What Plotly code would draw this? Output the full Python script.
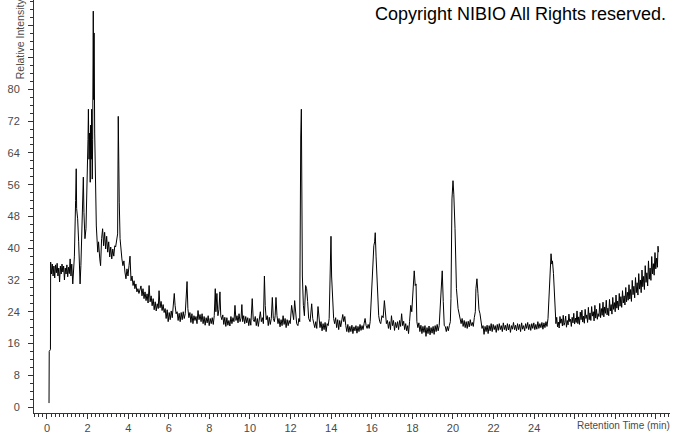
import plotly.graph_objects as go

# Chromatogram: (retention time [min], relative intensity)
start_trace = [
    (0.10, 1), (0.11, 14), (0.17, 14.5), (0.18, 36.5), (0.22, 33.5), (0.26, 36), (0.30, 33),
    (0.34, 35.5), (0.38, 32.5), (0.42, 35.8), (0.46, 33.8), (0.50, 36.2), (0.54, 33), (0.58, 35),
    (0.62, 31.5), (0.66, 35.5), (0.70, 33.5), (0.74, 36), (0.78, 34), (0.82, 35.5), (0.86, 32),
    (0.90, 35), (0.94, 33.5), (0.98, 35.8), (1.02, 32.8), (1.06, 35.2), (1.10, 33.6), (1.14, 37.3),
    (1.18, 33), (1.22, 36),
]

early_peaks = [
    (1.27, 31), (1.35, 38), (1.41, 52), (1.44, 60), (1.46, 50), (1.51, 47.4), (1.56, 41.6),
    (1.59, 34), (1.63, 31), (1.67, 35.6), (1.74, 47.4), (1.79, 57.9), (1.82, 49), (1.87, 42.4),
    (1.92, 44.9), (1.95, 50.6), (1.99, 55.6), (2.02, 67.4), (2.04, 75), (2.07, 62.4), (2.10, 69),
    (2.13, 56.6), (2.15, 71), (2.18, 62.4), (2.20, 75), (2.23, 57.4), (2.25, 67.4), (2.28, 99.7),
    (2.30, 77.4), (2.32, 94.2), (2.35, 69), (2.38, 55.6), (2.43, 45.6), (2.50, 39), (2.54, 41.6),
    (2.60, 37.3), (2.64, 35.6), (2.69, 42.4), (2.74, 44.9), (2.79, 40.6), (2.84, 44), (2.89, 39.8),
    (2.94, 43), (2.99, 39), (3.04, 41.6), (3.09, 37.8), (3.14, 40.3), (3.19, 37.3), (3.24, 39.8),
    (3.29, 38), (3.34, 40.6), (3.38, 40.3), (3.43, 42.4), (3.48, 43.6), (3.51, 73.2), (3.54, 55.6),
    (3.56, 51.6), (3.60, 42.4), (3.65, 39), (3.69, 37.3), (3.74, 35.6), (3.79, 36.8), (3.84, 34),
    (3.89, 32.3), (3.94, 34.8), (3.99, 33), (4.04, 35.6), (4.09, 38), (4.14, 31.8), (4.19, 33),
    (4.24, 30.6), (4.29, 31.8), (4.33, 29.8), (4.38, 31), (4.43, 29), (4.48, 29.8), (4.53, 28.6),
    (4.58, 29.3),
]

decline_trace = [
    (4.63, 30.5), (4.68, 28), (4.73, 29.8), (4.78, 27.3), (4.83, 29), (4.88, 26.8), (4.93, 28.5),
    (4.98, 26.2), (5.03, 30.6), (5.08, 26.5), (5.13, 28), (5.18, 25.5), (5.23, 27.3), (5.28, 24.5),
    (5.33, 26.5), (5.38, 24.2), (5.43, 26), (5.48, 24.8), (5.52, 29.3), (5.57, 25), (5.62, 26.6),
    (5.67, 24.3), (5.72, 25.8), (5.77, 23.8), (5.82, 24.8), (5.87, 22.3), (5.92, 24.5), (5.97, 21.5),
    (6.02, 23.8), (6.07, 22), (6.12, 24.2), (6.17, 22.5), (6.22, 27.3), (6.27, 28.6), (6.31, 25.6),
    (6.36, 23.5), (6.41, 24), (6.46, 21.8), (6.51, 23.6), (6.56, 21.5), (6.61, 23.8), (6.66, 22),
    (6.71, 24), (6.76, 22.3), (6.81, 23.5), (6.86, 27.3), (6.90, 31.6), (6.94, 24.8), (6.99, 22.5),
    (7.04, 23.8), (7.09, 21.3), (7.14, 23.5), (7.19, 21), (7.24, 23), (7.29, 21.8), (7.34, 22.8),
    (7.39, 21), (7.44, 24.3), (7.49, 22), (7.54, 23.3), (7.59, 21.5), (7.64, 23.5), (7.69, 21),
    (7.74, 22.8), (7.79, 20.6), (7.84, 22.5), (7.89, 21.2), (7.94, 23), (7.99, 20.5), (8.04, 22.3),
    (8.09, 21), (8.14, 22.5), (8.19, 20.8), (8.24, 23), (8.29, 29.8), (8.32, 24), (8.37, 28.6),
    (8.42, 23), (8.47, 24.5), (8.52, 29), (8.56, 23), (8.61, 22), (8.66, 23.2), (8.71, 20.8),
    (8.76, 22.6), (8.81, 20.3), (8.86, 22.5), (8.91, 20.6), (8.96, 21.8), (9.01, 20.4), (9.06, 22.8),
    (9.11, 21), (9.16, 22.5), (9.21, 21.5), (9.26, 25.6), (9.31, 21.8), (9.36, 23), (9.41, 21.2),
    (9.46, 23.5), (9.51, 21.5), (9.56, 22.4), (9.60, 25.8), (9.64, 21.5), (9.69, 23), (9.74, 21),
    (9.79, 22.8), (9.84, 21.2), (9.89, 22.5), (9.94, 20.5), (9.99, 22.3),
]

middle_trace = [
    (10.04, 20.6), (10.11, 27.3), (10.16, 22), (10.21, 21.5), (10.26, 22.8), (10.31, 20.5),
    (10.36, 22.3), (10.41, 20.3), (10.46, 22), (10.51, 24), (10.56, 21.5), (10.61, 22.5),
    (10.66, 21), (10.71, 33), (10.75, 25.6), (10.80, 22), (10.85, 23), (10.90, 20.5), (10.95, 22.6),
    (11.00, 20.8), (11.05, 22.3), (11.10, 27.6), (11.15, 22.3), (11.20, 21.5), (11.24, 23),
    (11.28, 27.6), (11.33, 23), (11.38, 21), (11.43, 22.3), (11.48, 20.2), (11.53, 22), (11.58, 20.5),
    (11.63, 23), (11.68, 20.8), (11.73, 22.3), (11.78, 20), (11.83, 22), (11.88, 20.5), (11.93, 21.8),
    (11.98, 21), (12.05, 25.6), (12.10, 23), (12.15, 22), (12.20, 26.8), (12.25, 22.3), (12.30, 21),
    (12.36, 20.5), (12.41, 22.3), (12.45, 21.5), (12.47, 67.4), (12.50, 68), (12.53, 75),
    (12.55, 43), (12.58, 33), (12.63, 25.6), (12.68, 23), (12.74, 30.6), (12.79, 29.8), (12.84, 26.6),
    (12.89, 22.3), (12.96, 21.5), (13.04, 26), (13.09, 22.3), (13.14, 21), (13.19, 20), (13.24, 21.5),
    (13.29, 19.8), (13.35, 25.3), (13.40, 21.5), (13.45, 20), (13.50, 21.5), (13.55, 19.2),
    (13.60, 21), (13.65, 19.5), (13.70, 21.3), (13.75, 19), (13.80, 21), (13.85, 20.5), (13.90, 22.3),
    (13.96, 40.6), (13.99, 43), (14.02, 33), (14.07, 26.6), (14.12, 22.3), (14.17, 21), (14.22, 22.5),
    (14.27, 20), (14.32, 22), (14.37, 19.5), (14.42, 21.8), (14.47, 20.2), (14.52, 22.5),
    (14.57, 23.3), (14.62, 21.5), (14.67, 22.8), (14.72, 20.5), (14.77, 19), (14.82, 20.8),
    (14.87, 18.8), (14.92, 20.3), (14.97, 19), (15.02, 20.6), (15.07, 18.5), (15.12, 20.2),
    (15.17, 19.2), (15.22, 20.5), (15.27, 18.6), (15.32, 20.3), (15.37, 19), (15.42, 20.8),
    (15.47, 19.3), (15.52, 20.5), (15.57, 19.5), (15.62, 21), (15.67, 22.3), (15.72, 20.5),
    (15.77, 19.8), (15.82, 20.8), (15.87, 19.8), (15.92, 21.5), (15.99, 30.6), (16.05, 35.6),
    (16.10, 40.6), (16.14, 41.6), (16.17, 43.9), (16.21, 38), (16.24, 34.8), (16.29, 28), (16.34, 23),
    (16.39, 21.5), (16.44, 21), (16.50, 23), (16.56, 22.5), (16.62, 26.8), (16.67, 23), (16.72, 21),
    (16.77, 21.8), (16.82, 19.8), (16.87, 21.5), (16.92, 19.5), (16.97, 23), (17.02, 20.5),
    (17.07, 21.8), (17.12, 19.3), (17.17, 21.3), (17.22, 20), (17.27, 21.5), (17.32, 19.5),
    (17.37, 21.8), (17.42, 20.3), (17.47, 23.5), (17.52, 20.5), (17.57, 21.6), (17.62, 19.5),
    (17.67, 21), (17.72, 19.2), (17.77, 20.5), (17.81, 18.5), (17.86, 21.5), (17.92, 25.6),
    (17.97, 24), (18.03, 30.6), (18.09, 34.3), (18.14, 30.6), (18.18, 31), (18.22, 21.5), (18.27, 20),
    (18.32, 21.2), (18.37, 19), (18.42, 20.6), (18.47, 18.5), (18.52, 20.3), (18.57, 18.8),
    (18.62, 20.5), (18.67, 17.8), (18.72, 20), (18.77, 18.5), (18.82, 20.4), (18.87, 18.2),
    (18.92, 20), (18.97, 18.6), (19.02, 20.3), (19.07, 18.3), (19.12, 20.5), (19.17, 19),
    (19.22, 20.8), (19.27, 19.2), (19.32, 20.5), (19.36, 24.8), (19.42, 32.3), (19.47, 34.3),
    (19.52, 26.6), (19.57, 20.5), (19.62, 20.3), (19.67, 19), (19.72, 20.3), (19.77, 19.2),
    (19.82, 20.5), (19.87, 21.5), (19.90, 27.3), (19.95, 52.4), (20.00, 57), (20.04, 53.6),
    (20.10, 44.9), (20.17, 29.8), (20.25, 24.8), (20.34, 22.3),
]

late_trace = [
    (20.40, 21), (20.45, 22.3), (20.50, 20.3), (20.55, 21.8), (20.60, 20), (20.65, 21.5),
    (20.70, 19.8), (20.75, 21.6), (20.80, 20.2), (20.85, 22), (20.90, 20.5), (20.95, 21.3),
    (21.00, 20.3), (21.05, 22.5), (21.10, 24), (21.13, 29.8), (21.18, 32.3), (21.23, 28.6),
    (21.28, 24.5), (21.33, 23.5), (21.38, 21.5), (21.43, 19.8), (21.48, 20.5), (21.53, 18.3),
    (21.58, 20.3), (21.63, 19), (21.68, 20.6), (21.73, 18.5), (21.78, 20.5), (21.83, 19.2),
    (21.88, 21), (21.93, 19), (21.98, 20.8), (22.03, 19.5), (22.08, 20.5), (22.13, 18.8),
    (22.18, 20.8), (22.23, 19.3), (22.28, 21), (22.33, 19.5), (22.38, 20.5), (22.43, 19),
    (22.48, 21.2), (22.53, 19.5), (22.58, 20.6), (22.63, 19.2), (22.68, 21), (22.73, 19.4),
    (22.78, 20.8), (22.83, 18.8), (22.88, 20.5), (22.93, 19.6), (22.98, 21.3), (23.03, 19.5),
    (23.08, 20.6), (23.13, 19.2), (23.18, 21), (23.23, 19.5), (23.28, 20.8), (23.33, 19),
    (23.38, 21.2), (23.43, 19.6), (23.48, 20.5), (23.53, 19.2), (23.58, 21), (23.63, 19.8),
    (23.68, 21.3), (23.73, 19.5), (23.78, 20.8), (23.83, 19.3), (23.88, 21), (23.93, 19.8),
    (23.98, 21.2), (24.03, 19.5), (24.08, 20.8), (24.13, 19.6), (24.18, 21.5), (24.23, 19.8),
    (24.28, 21), (24.33, 20), (24.38, 21.3), (24.43, 19.6), (24.48, 21.2), (24.53, 20),
    (24.58, 21.5), (24.63, 20.3), (24.68, 22.3), (24.73, 28), (24.78, 34.8), (24.83, 38.6),
    (24.87, 36), (24.90, 36.8), (24.95, 33.6), (25.02, 23.5),
]

rising_end = [
    (25.07, 21), (25.11, 22.6), (25.15, 20.2), (25.19, 21.4), (25.23, 19.9), (25.27, 22.8),
    (25.31, 21.1), (25.35, 22.2), (25.39, 20.4), (25.43, 23.1), (25.47, 20.6), (25.51, 21.3),
    (25.55, 22.9), (25.59, 20.1), (25.63, 21.8), (25.67, 20.7), (25.71, 23.4), (25.75, 21.5),
    (25.79, 22.1), (25.83, 20.3), (25.87, 22.6), (25.91, 21.2), (25.95, 23.6), (25.99, 20.9),
    (26.03, 22.4), (26.07, 21.3), (26.11, 24.2), (26.15, 21.0), (26.19, 22.7), (26.23, 20.8),
    (26.27, 23.9), (26.31, 22.0), (26.35, 24.4), (26.39, 21.4), (26.43, 22.9), (26.47, 21.1),
    (26.51, 24.6), (26.55, 22.3), (26.59, 23.2), (26.63, 21.3), (26.67, 25.1), (26.71, 22.0),
    (26.75, 23.7), (26.79, 21.8), (26.83, 25.3), (26.87, 22.9), (26.91, 24.0), (26.95, 21.7),
    (26.99, 25.6), (27.03, 22.4), (27.07, 24.6), (27.11, 22.1), (27.15, 23.5), (27.19, 22.8),
    (27.23, 26.1), (27.27, 22.5), (27.31, 24.8), (27.35, 23.1), (27.39, 26.4), (27.43, 22.7),
    (27.47, 25.2), (27.51, 23.6), (27.55, 26.9), (27.59, 23.2), (27.63, 24.9), (27.67, 23.0),
    (27.71, 27.1), (27.75, 24.2), (27.79, 25.8), (27.83, 23.4), (27.87, 27.6), (27.91, 24.6),
    (27.95, 26.3), (27.99, 24.0), (28.03, 28.2), (28.07, 24.9), (28.11, 26.7), (28.15, 24.5),
    (28.19, 28.6), (28.23, 25.4), (28.27, 27.8), (28.31, 25.1), (28.35, 29.3), (28.39, 26.2),
    (28.43, 28.0), (28.47, 25.7), (28.51, 30.1), (28.55, 26.5), (28.59, 28.9), (28.63, 26.9),
    (28.67, 30.8), (28.71, 27.2), (28.75, 29.6), (28.79, 26.6), (28.83, 31.9), (28.87, 28.3),
    (28.91, 30.4), (28.95, 27.5), (28.99, 32.6), (29.03, 28.8), (29.07, 31.3), (29.11, 28.2),
    (29.15, 33.6), (29.19, 29.7), (29.23, 32.0), (29.27, 28.8), (29.31, 34.5), (29.35, 30.3),
    (29.39, 32.9), (29.43, 29.6), (29.47, 35.6), (29.51, 31.4), (29.55, 33.8), (29.59, 30.5),
    (29.63, 36.8), (29.67, 32.2), (29.71, 35.0), (29.75, 31.9), (29.79, 37.9), (29.83, 33.5),
    (29.87, 36.1), (29.91, 33.2), (29.95, 38.9), (29.99, 34.8), (30.03, 37.5), (30.07, 35.2),
    (30.10, 40.5), (30.12, 39),
]

x_tick_values = [0, 2, 4, 6, 8, 10, 12, 14, 16, 18, 20, 22, 24, 26, 28, 30]
x_tick_labels = ["0", "2", "4", "6", "8", "10", "12", "14", "16", "18", "20", "22", "24", "", "", ""]
y_tick_values = [0, 8, 16, 24, 32, 40, 48, 56, 64, 72, 80, 88, 96]
y_tick_labels = ["0", "8", "16", "24", "32", "40", "48", "56", "64", "72", "80", "", ""]

rt_min = []
rel_intensity = []
for segment in (start_trace, early_peaks, decline_trace, middle_trace, late_trace, rising_end):
    for t, v in segment:
        rt_min.append(t)
        rel_intensity.append(v)

FONT = "Arial, 'Liberation Sans', sans-serif"
AX = "#333333"
TXT = "#4a4a4a"

fig = go.Figure(
    go.Scatter(x=rt_min, y=rel_intensity, mode="lines",
               line=dict(color="black", width=1), hoverinfo="skip")
)

fig.update_layout(
    width=674, height=434,
    margin=dict(l=34, r=4, t=0, b=19, pad=0),
    paper_bgcolor="white", plot_bgcolor="white",
    showlegend=False,
    font=dict(family=FONT, size=11, color=TXT),
    xaxis=dict(
        range=[-0.64, 30.69], showgrid=False, zeroline=False,
        showline=True, linecolor=AX, linewidth=1,
        ticks="outside", ticklen=5, tickcolor=AX, tickwidth=1,
        tickvals=x_tick_values, ticktext=x_tick_labels,
        tickfont=dict(family=FONT, size=11, color=TXT),
        minor=dict(dtick=0.2, tick0=0, ticks="outside", ticklen=3, tickcolor=AX, showgrid=False),
    ),
    yaxis=dict(
        range=[-1.5, 102.5], showgrid=False, zeroline=False,
        showline=True, linecolor=AX, linewidth=1,
        ticks="outside", ticklen=5, tickcolor=AX, tickwidth=1,
        tickvals=y_tick_values, ticktext=y_tick_labels,
        tickfont=dict(family=FONT, size=11, color=TXT),
        ticklabelstandoff=6,
        minor=dict(dtick=2, tick0=0, ticks="outside", ticklen=3, tickcolor=AX, showgrid=False),
    ),
    annotations=[
        dict(text="Copyright NIBIO All Rights reserved.", xref="paper", yref="paper",
             x=0.997, y=0.966, xanchor="right", yanchor="middle", showarrow=False,
             font=dict(family=FONT, size=18, color="black")),
        dict(text="Relative Intensity", xref="paper", yref="paper", textangle=-90,
             x=-0.022, y=0.905, xanchor="center", yanchor="middle", showarrow=False,
             font=dict(family=FONT, size=10.5, color=TXT)),
        dict(text="Retention Time (min)", xref="paper", yref="paper",
             x=1.003, y=-0.03, xanchor="right", yanchor="middle", showarrow=False,
             font=dict(family=FONT, size=10, color=TXT)),
    ],
)

fig.write_html(
    "out.html",
    config={"displayModeBar": False},
    post_script="document.body.style.margin='0';document.body.style.overflow='hidden';",
)
